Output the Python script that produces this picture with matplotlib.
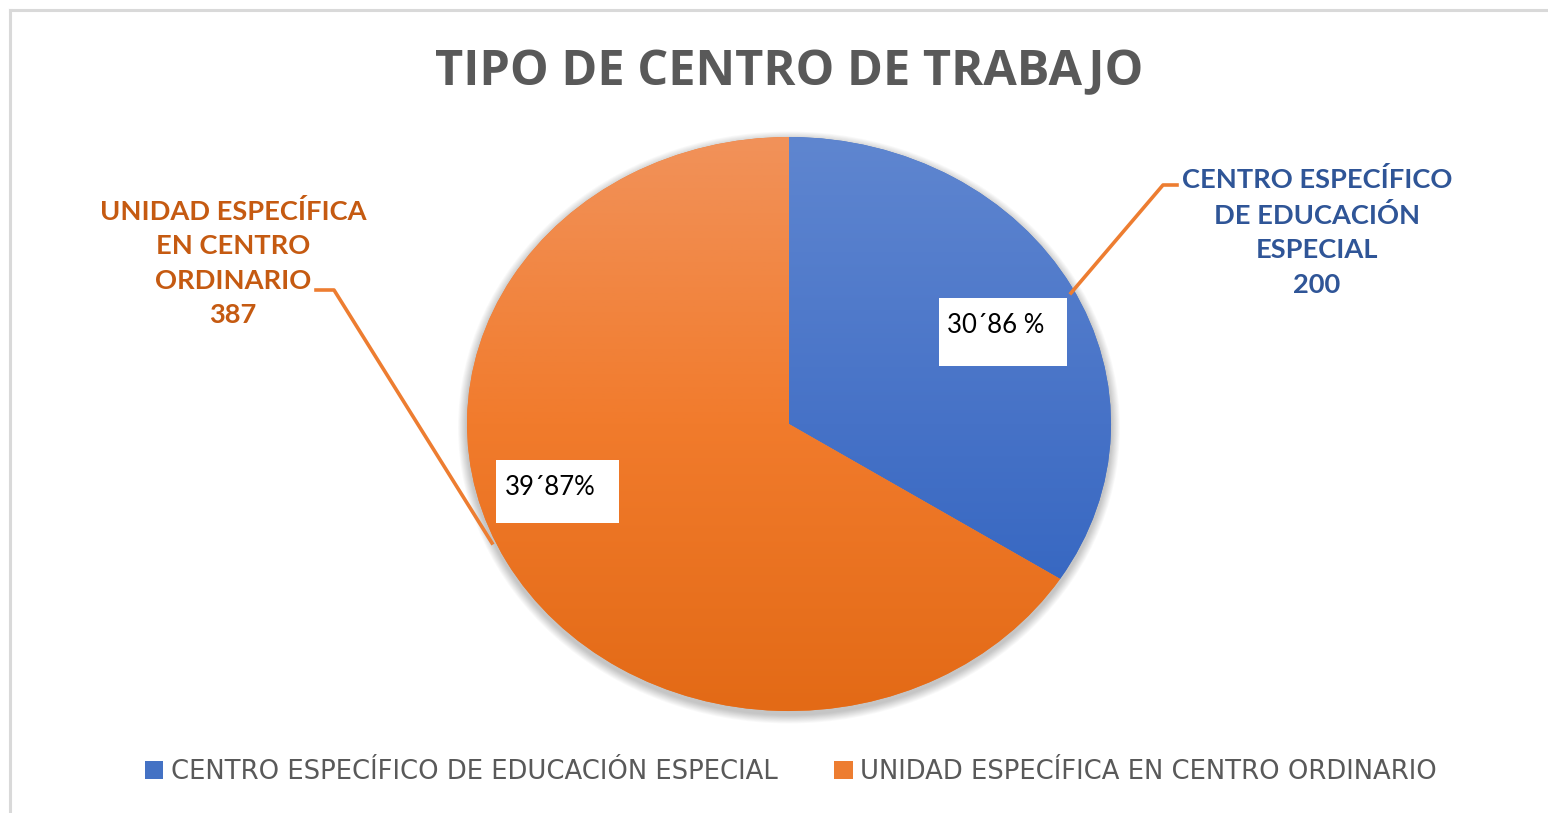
import matplotlib
matplotlib.use('Agg')
import matplotlib.pyplot as plt
import numpy as np
from matplotlib.patches import Rectangle, Ellipse
from matplotlib.lines import Line2D
from matplotlib.colors import to_rgb

# ---- data ----
categories = ['CENTRO ESPECÍFICO DE EDUCACIÓN ESPECIAL', 'UNIDAD ESPECÍFICA EN CENTRO ORDINARIO']
values = [200, 387]
callout_labels = ['CENTRO ESPECÍFICO\nDE EDUCACIÓN\nESPECIAL\n200',
                  'UNIDAD ESPECÍFICA\nEN CENTRO\nORDINARIO\n387']
pct_labels = ['30´86 %', '39´87%']
title = 'TIPO DE CENTRO DE TRABAJO'

colors = ['#4472C4', '#ED7D31']
grad_stops = [['#5F86D0', '#4672C7', '#2C60BE'],
              ['#F1925A', '#F17B2C', '#E36A16']]
callout_colors = ['#2F5597', '#C55A11']
leader_color = '#ED7D31'

W, H = 1548, 813
fig = plt.figure(figsize=(W / 100, H / 100), dpi=100)
fig.patch.set_facecolor('white')

def fx(x):
    return x / W

def fy(y):
    return 1 - y / H

# chart border (only top and left visible)
fig.add_artist(Line2D([fx(10), fx(10)], [fy(10), -0.1], color='#D9D9D9', lw=2.2,
                      transform=fig.transFigure))
fig.add_artist(Line2D([fx(10), 1.1], [fy(10), fy(10)], color='#D9D9D9', lw=2.2,
                      transform=fig.transFigure))

# ---- pie (slightly elliptical as in the reference) ----
cx, cy, rx, ry = 789, 424, 322, 287
ax = fig.add_axes([fx(cx - rx), fy(cy + ry), 2 * rx / W, 2 * ry / H])

# soft shadow behind the pie
for k in range(10, 0, -1):
    grow = k * 0.9
    ax.add_patch(Ellipse((0, -3.5 / ry), 2 + 2 * grow / rx, 2 + 2 * grow / ry,
                         facecolor='black', edgecolor='none', alpha=0.022,
                         zorder=0, clip_on=False))

wedges, _ = ax.pie(values, colors=colors, startangle=90, counterclock=False, radius=1,
                   wedgeprops=dict(linewidth=0, zorder=1))
for w, stops in zip(wedges, grad_stops):
    c = np.array([to_rgb(s) for s in stops])
    f = np.linspace(0, 1, 256)
    grad = np.stack([np.interp(f, [0, 0.5, 1], c[:, i]) for i in range(3)], axis=1)[:, None, :]
    im = ax.imshow(grad, extent=(-1, 1, -1, 1), origin='upper', aspect='auto',
                   interpolation='bilinear', zorder=2)
    im.set_clip_path(w)
ax.set_aspect('auto')
ax.set_xlim(-1, 1)
ax.set_ylim(-1, 1)
ax.axis('off')

# ---- title ----
fig.text(fx(789), fy(73), title, ha='center', va='center', fontsize=35,
         fontweight='bold', color='#595959', family=['Open Sans', 'DejaVu Sans'])

# ---- callout labels ----
fig.text(fx(1317), fy(232), callout_labels[0], ha='center', va='center', fontsize=19.6,
         fontweight='bold', color=callout_colors[0], linespacing=1.52,
         family=['Lato', 'DejaVu Sans'])
fig.text(fx(233), fy(263), callout_labels[1], ha='center', va='center', fontsize=19.6,
         fontweight='bold', color=callout_colors[1], linespacing=1.52,
         family=['Lato', 'DejaVu Sans'])

# leader lines
fig.add_artist(Line2D([fx(1071), fx(1163), fx(1177)], [fy(293), fy(185), fy(185)],
                      color=leader_color, lw=2.6, transform=fig.transFigure))
fig.add_artist(Line2D([fx(316), fx(334), fx(492)], [fy(290), fy(290), fy(543)],
                      color=leader_color, lw=2.6, transform=fig.transFigure))

# ---- percentage boxes ----
boxes = [(939, 298, 128, 68, 947, 325), (496, 460, 123, 63, 505, 487)]
for (bx, by, bw, bh, tx, ty), lab in zip(boxes, pct_labels):
    fig.add_artist(Rectangle((fx(bx), fy(by + bh)), bw / W, bh / H, facecolor='white',
                             edgecolor='none', transform=fig.transFigure, zorder=5))
    fig.text(fx(tx), fy(ty), lab, ha='left', va='center', fontsize=18.5, color='black',
             family=['Lato', 'DejaVu Sans'], zorder=6)

# ---- legend ----
leg = fig.legend(wedges, categories, loc='center', bbox_to_anchor=(fx(791), fy(772)),
                 ncol=2, frameon=False, handlelength=0.7, handleheight=0.7,
                 handletextpad=0.3, columnspacing=2.2,
                 prop=dict(family=['DejaVu Sans'], size=18.6))
for t in leg.get_texts():
    t.set_color('#595959')

fig.savefig('out.png', dpi=100, facecolor='white')
